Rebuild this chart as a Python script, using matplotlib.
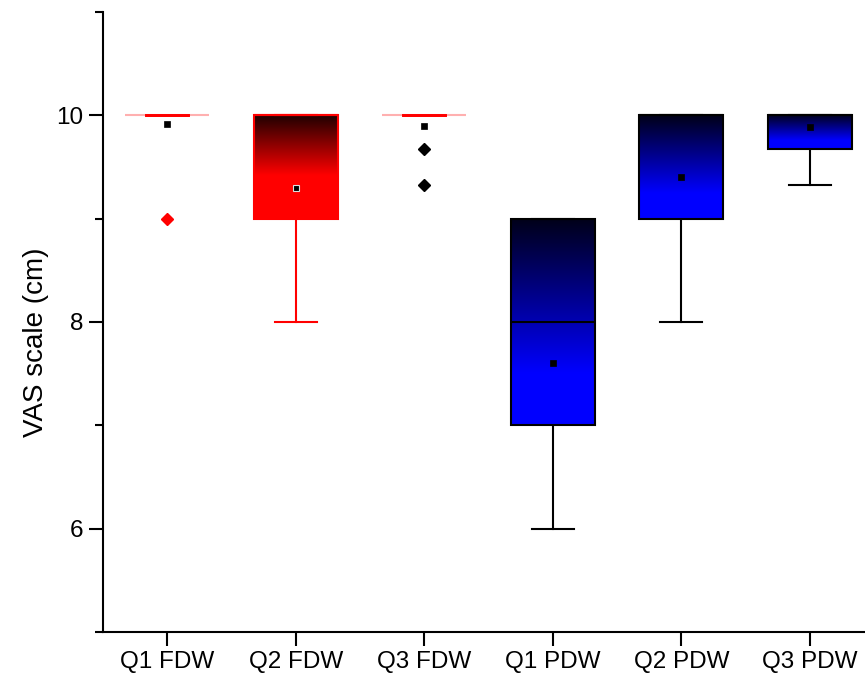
import numpy as np
import matplotlib
matplotlib.use("Agg")
import matplotlib.pyplot as plt
from matplotlib.colors import LinearSegmentedColormap

plt.rcParams['font.family'] = ['Liberation Sans', 'DejaVu Sans']

# ---- data ----
labels = ["Q1 FDW", "Q2 FDW", "Q3 FDW", "Q1 PDW", "Q2 PDW", "Q3 PDW"]
q1 = [10.0, 9.0, 10.0, 7.0, 9.0, 9.67]
median = [10.0, 10.0, 10.0, 8.0, 10.0, 10.0]
q3 = [10.0, 10.0, 10.0, 9.0, 10.0, 10.0]
whislo = [10.0, 8.0, 10.0, 6.0, 8.0, 9.33]
whishi = [10.0, 10.0, 10.0, 9.0, 10.0, 10.0]
means = [9.92, 9.3, 9.9, 7.6, 9.4, 9.89]
outliers = [[9.0], [], [9.67, 9.33], [], [], []]

# ---- styles ----
box_colors = ["#ff0000", "#ff0000", "#ff0000", "#0000ff", "#0000ff", "#0000ff"]
edge_colors = ["#ff0000", "#ff0000", "#ff0000", "#000000", "#000000", "#000000"]
flier_colors = ["#ff0000", "black", "black", "black", "black", "black"]
grad_frac = {"#ff0000": 0.58, "#0000ff": 0.75}
dark_top = {"#ff0000": "#200000", "#0000ff": "#000018"}

fig = plt.figure(figsize=(8.65, 6.77), dpi=100)
ax = fig.add_axes([103/865, 45/677, 771/865, 620/677])

positions = np.arange(1, len(labels) + 1)
stats = []
for i in range(len(labels)):
    stats.append(dict(med=median[i], q1=q1[i], q3=q3[i], whislo=whislo[i],
                      whishi=whishi[i], mean=means[i], fliers=outliers[i]))

bw = 0.65
res = ax.bxp(stats, positions=positions, widths=bw, capwidths=0.33,
             patch_artist=True, showmeans=True, showfliers=True)

for i, box in enumerate(res['boxes']):
    c = box_colors[i]
    ec = edge_colors[i]
    degenerate = q1[i] == q3[i]
    box.set_facecolor('none')
    box.set_edgecolor('#ffb0b0' if degenerate else ec)
    box.set_linewidth(1.5)
    box.set_zorder(3)
    if not degenerate:
        cmap = LinearSegmentedColormap.from_list(
            "g", [(0, dark_top[c]), (grad_frac[c], c), (1, c)])
        grad = np.linspace(0, 1, 256).reshape(-1, 1)
        im = ax.imshow(grad, cmap=cmap, aspect='auto', origin='upper',
                       extent=[positions[i] - bw/2, positions[i] + bw/2, q1[i], q3[i]],
                       zorder=2, interpolation='bilinear')
        im.set_clip_path(box)

for i in range(len(labels)):
    ec = edge_colors[i]
    for ln in res['whiskers'][2*i:2*i+2]:
        ln.set_color(ec); ln.set_linewidth(1.5)
    for ln in res['caps'][2*i:2*i+2]:
        ln.set_color(ec); ln.set_linewidth(2.0 if q1[i] == q3[i] else 1.5); ln.set_zorder(4)
    med = res['medians'][i]
    med.set_color(ec if q1[i] != q3[i] else 'none'); med.set_linewidth(1.5); med.set_zorder(4)
    mn = res['means'][i]
    mn.set_marker('s'); mn.set_markersize(5)
    mn.set_markerfacecolor('black')
    mn.set_markeredgecolor('#dddddd' if i == 1 else 'black')
    mn.set_markeredgewidth(0.8 if i == 1 else 0.5)
    mn.set_zorder(5)
    fl = res['fliers'][i]
    fl.set_marker('D'); fl.set_markersize(6)
    fl.set_markerfacecolor(flier_colors[i]); fl.set_markeredgecolor(flier_colors[i])
    fl.set_zorder(5)

ax.set_xlim(0.5, 6.5)
ax.set_ylim(5, 11)
ax.set_xticks(positions)
ax.set_xticklabels(labels)
ax.set_yticks([6, 8, 10])
ax.set_yticks([5, 7, 9, 11], minor=True)
ax.tick_params(axis='both', which='major', length=10, width=1.5, labelsize=17.5, direction='out', pad=4)
ax.tick_params(axis='y', which='minor', length=6, width=1.5)
ax.tick_params(axis='x', which='minor', length=0)
for s in ['top', 'right']:
    ax.spines[s].set_visible(False)
for s in ['left', 'bottom']:
    ax.spines[s].set_linewidth(1.5)

ax.set_ylabel("VAS scale (cm)", fontsize=20)
ax.yaxis.set_label_coords(-0.07, 0.468)

fig.savefig("out.png", dpi=100)
